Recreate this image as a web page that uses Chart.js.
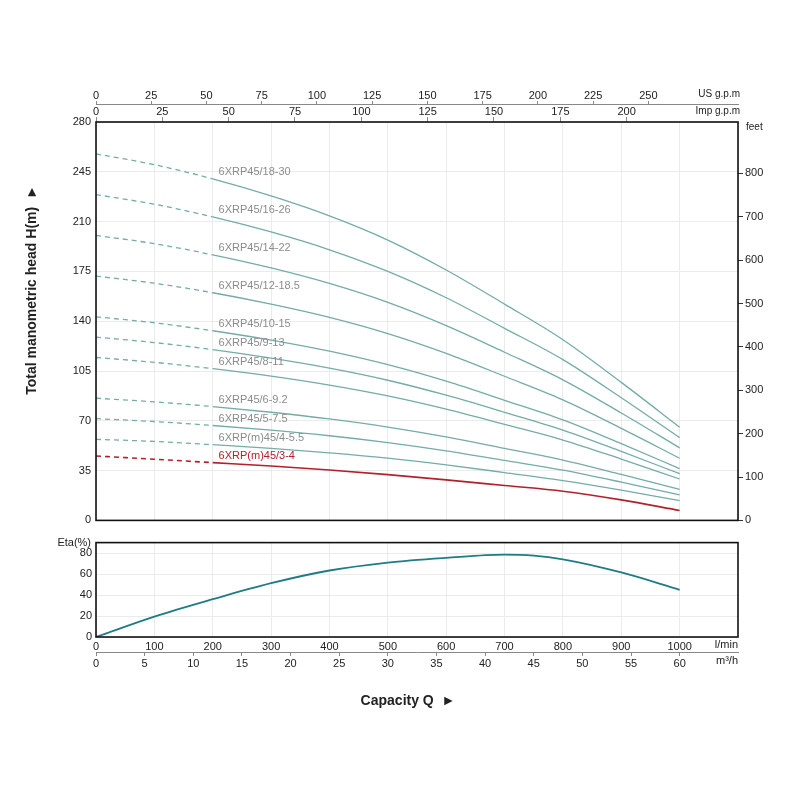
<!DOCTYPE html>
<html><head><meta charset="utf-8">
<script src="https://cdn.jsdelivr.net/npm/chart.js@4/dist/chart.umd.min.js"></script>
<style>
html,body{margin:0;padding:0;background:#fff;}
#wrap{position:relative;width:800px;height:800px;overflow:hidden;background:#fff;}
#c1{position:absolute;left:0;top:0;}
#c2{position:absolute;left:0;top:532px;}
</style></head>
<body><div id="wrap"><canvas id="c1" width="800" height="532"></canvas><canvas id="c2" width="800" height="180"></canvas></div>
<script>
// ---------- data ----------
const flowLpm = [0,100,200,300,400,500,600,700,800,900,1000];
const head_18_30  = [257.6,250.0,240.0,228.0,214.0,197.0,176.0,152.0,127.0,97.0,65.5];
const head_16_26  = [229.0,222.2,213.3,202.7,190.2,175.0,156.5,135.0,113.0,86.2,58.2];
const head_14_22  = [200.3,194.5,186.6,177.4,166.5,153.2,136.9,118.2,98.8,75.5,51.0];
const head_12_185 = [171.7,166.7,160.0,152.0,142.7,131.3,117.4,101.3,84.7,64.7,43.7];
const head_10_15  = [143.1,138.9,133.3,126.7,118.9,109.4,97.8,84.4,70.6,53.9,36.4];
const head_9_13   = [128.8,125.0,120.0,114.0,107.0,98.5,88.0,76.0,63.5,48.5,32.8];
const head_8_11   = [114.5,111.1,106.6,101.4,95.1,87.5,78.2,67.5,56.5,43.1,29.1];
const head_6_92   = [85.9,83.3,80.0,76.0,71.3,65.6,58.7,50.6,42.4,32.3,21.8];
const head_5_75   = [71.5,69.5,66.7,63.4,59.5,54.7,48.9,42.2,35.3,26.9,17.9];
const head_4_55   = [57.0,55.5,53.2,50.6,47.5,43.7,39.0,33.6,28.0,21.3,13.9];
const head_3_4    = [45.3,43.0,40.6,38.2,35.4,32.2,28.5,24.5,20.5,14.4,7.0];
const curveNames = ['6XRP45/18-30','6XRP45/16-26','6XRP45/14-22','6XRP45/12-18.5','6XRP45/10-15','6XRP45/9-13','6XRP45/8-11','6XRP45/6-9.2','6XRP45/5-7.5','6XRP(m)45/4-5.5','6XRP(m)45/3-4'];
const curveHeads = [head_18_30,head_16_26,head_14_22,head_12_185,head_10_15,head_9_13,head_8_11,head_6_92,head_5_75,head_4_55,head_3_4];
const etaFlowLpm = [0,100,200,300,400,500,600,700,750,800,900,1000];
const etaPercent = [0,19.5,36,51.3,63.4,71,75.5,78.6,77.6,74,61.5,45];
const headTicks = [0,35,70,105,140,175,210,245,280];
const feetTicks = [0,100,200,300,400,500,600,700,800];
const usGpmTicks = [0,25,50,75,100,125,150,175,200,225,250];
const impGpmTicks = [0,25,50,75,100,125,150,175,200];
const lpmTicks = [0,100,200,300,400,500,600,700,800,900,1000];
const m3hTicks = [0,5,10,15,20,25,30,35,40,45,50,55,60];
const etaTicks = [0,10,20,30,40,50,60,70,80,90];

// ---------- style ----------
Chart.defaults.font.family = "'Liberation Sans', Arial, sans-serif";
Chart.defaults.font.size = 11;
Chart.defaults.color = '#222';
const X_MAX = 1100;
const TEAL = '#74aca6', RED = '#b3202c', ETA = '#1f7b84', GRID = '#ebebeb';
const setTicks = arr => s => { s.ticks = arr.map(v => ({value: v})); };
const plain = v => String(v);

const framePlugin = {
  id: 'frame',
  afterDraw(chart) {
    const a = chart.chartArea, c = chart.ctx;
    c.save(); c.strokeStyle = '#111'; c.lineWidth = 1.6;
    c.strokeRect(a.left, a.top, a.right - a.left, a.bottom - a.top);
    c.restore();
  }
};

const mainText = {
  id: 'mainText',
  afterDraw(chart) {
    const c = chart.ctx, xs = chart.scales.x, ys = chart.scales.y, a = chart.chartArea;
    c.save();
    c.font = "11px 'Liberation Sans', Arial, sans-serif";
    c.textBaseline = 'middle'; c.textAlign = 'left';
    curveNames.forEach((n, i) => {
      c.fillStyle = i === curveNames.length - 1 ? RED : '#8c8c8c';
      c.fillText(n, xs.getPixelForValue(210), ys.getPixelForValue(curveHeads[i][2]) - 7);
    });
    c.fillStyle = '#222'; c.font = "10px 'Liberation Sans', Arial, sans-serif";
    c.textAlign = 'right';
    c.fillText('US g.p.m', a.right + 2, 94);
    c.fillText('Imp g.p.m', a.right + 2, 111);
    c.textAlign = 'left';
    c.fillText('feet', a.right + 8, 127);
    c.font = "bold 14px 'Liberation Sans', Arial, sans-serif";
    c.translate(32, 290); c.rotate(-Math.PI / 2); c.textAlign = 'center';
    c.fillText('Total manometric head H(m)  \u25BA', 0, 0);
    c.restore();
  }
};

const headDatasets = curveNames.map((n, i) => ({
  label: n,
  data: flowLpm.map((x, k) => ({x: x, y: curveHeads[i][k]})),
  borderColor: i === curveNames.length - 1 ? RED : TEAL,
  borderWidth: i === curveNames.length - 1 ? 1.6 : 1.3,
  pointRadius: 0,
  cubicInterpolationMode: 'monotone',
  segment: { borderDash: ctx => ctx.p0.parsed.x < 200 ? [5, 4] : undefined },
  xAxisID: 'x', yAxisID: 'y'
}));

new Chart(document.getElementById('c1'), {
  type: 'line',
  data: { datasets: headDatasets },
  options: {
    responsive: false, animation: false,
    layout: { padding: { top: 80, bottom: 8, left: 0, right: 0 } },
    plugins: { legend: { display: false }, tooltip: { enabled: false } },
    scales: {
      x: { type: 'linear', position: 'bottom', min: 0, max: X_MAX,
           ticks: { display: false, stepSize: 100 },
           grid: { color: GRID, drawTicks: false }, border: { display: false },
           afterFit: s => { s.height = 0; } },
      us: { type: 'linear', position: 'top', min: 0, max: X_MAX / 3.785411784, weight: 2,
            afterBuildTicks: setTicks(usGpmTicks),
            ticks: { padding: -2, maxRotation: 0, autoSkip: false, callback: plain },
            grid: { drawOnChartArea: false, tickLength: 3, color: '#888' },
            border: { display: true, color: '#888', width: 1 },
            afterFit: s => { s.height = 24; } },
      imp: { type: 'linear', position: 'top', min: 0, max: X_MAX / 4.54609, weight: 1,
             afterBuildTicks: setTicks(impGpmTicks),
             ticks: { padding: -2, maxRotation: 0, autoSkip: false, callback: plain },
             grid: { drawOnChartArea: false, tickLength: 5, color: '#888' },
             border: { display: false },
             afterFit: s => { s.height = 18; } },
      y: { type: 'linear', position: 'left', min: 0, max: 280,
           afterBuildTicks: setTicks(headTicks),
           ticks: { padding: 5, callback: plain },
           grid: { color: GRID, drawTicks: false }, border: { display: false },
           afterFit: s => { s.width = 96; } },
      ft: { type: 'linear', position: 'right', min: 0, max: 280 * 3.28084,
            afterBuildTicks: setTicks(feetTicks),
            ticks: { padding: 2, callback: plain },
            grid: { drawOnChartArea: false, tickLength: 5, color: '#333' },
            border: { display: false },
            afterFit: s => { s.width = 62; } }
    }
  },
  plugins: [framePlugin, mainText]
});

const etaText = {
  id: 'etaText',
  afterDraw(chart) {
    const c = chart.ctx, a = chart.chartArea;
    c.save(); c.fillStyle = '#222';
    c.font = "11px 'Liberation Sans', Arial, sans-serif";
    c.textBaseline = 'middle'; c.textAlign = 'right';
    c.fillText('Eta(%)', 91, 11);
    c.fillText('l/min', a.right, 113);
    c.fillText('m\u00B3/h', a.right, 129);
    c.textAlign = 'center';
    c.font = "bold 14px 'Liberation Sans', Arial, sans-serif";
    c.fillText('Capacity Q  \u25BA', 408, 169);
    c.restore();
  }
};

new Chart(document.getElementById('c2'), {
  type: 'line',
  data: { datasets: [{
    label: 'Eta',
    data: etaFlowLpm.map((x, k) => ({x: x, y: etaPercent[k]})),
    borderColor: ETA, borderWidth: 1.8, pointRadius: 0,
    cubicInterpolationMode: 'monotone', xAxisID: 'x', yAxisID: 'y'
  }] },
  options: {
    responsive: false, animation: false,
    layout: { padding: { top: 9, bottom: 42, left: 0, right: 62 } },
    plugins: { legend: { display: false }, tooltip: { enabled: false } },
    scales: {
      x: { type: 'linear', position: 'bottom', min: 0, max: X_MAX, weight: 1,
           afterBuildTicks: setTicks(lpmTicks),
           ticks: { padding: 3, maxRotation: 0, autoSkip: false, callback: plain },
           grid: { color: GRID, drawTicks: false }, border: { display: false },
           afterFit: s => { s.height = 15; } },
      m3h: { type: 'linear', position: 'bottom', min: 0, max: X_MAX * 0.06, weight: 2,
             afterBuildTicks: setTicks(m3hTicks),
             ticks: { padding: 1, maxRotation: 0, autoSkip: false, callback: plain },
             grid: { drawOnChartArea: false, tickLength: 4, color: '#888' },
             border: { display: true, color: '#888', width: 1 },
             afterFit: s => { s.height = 18; } },
      y: { type: 'linear', position: 'left', min: 0, max: 90,
           afterBuildTicks: setTicks(etaTicks),
           ticks: { padding: 4, callback: v => (v % 20 === 0 && v <= 80) ? String(v) : '' },
           grid: { color: GRID, drawTicks: false }, border: { display: false },
           afterFit: s => { s.width = 96; } }
    }
  },
  plugins: [framePlugin, etaText]
});
</script>
</body></html>
